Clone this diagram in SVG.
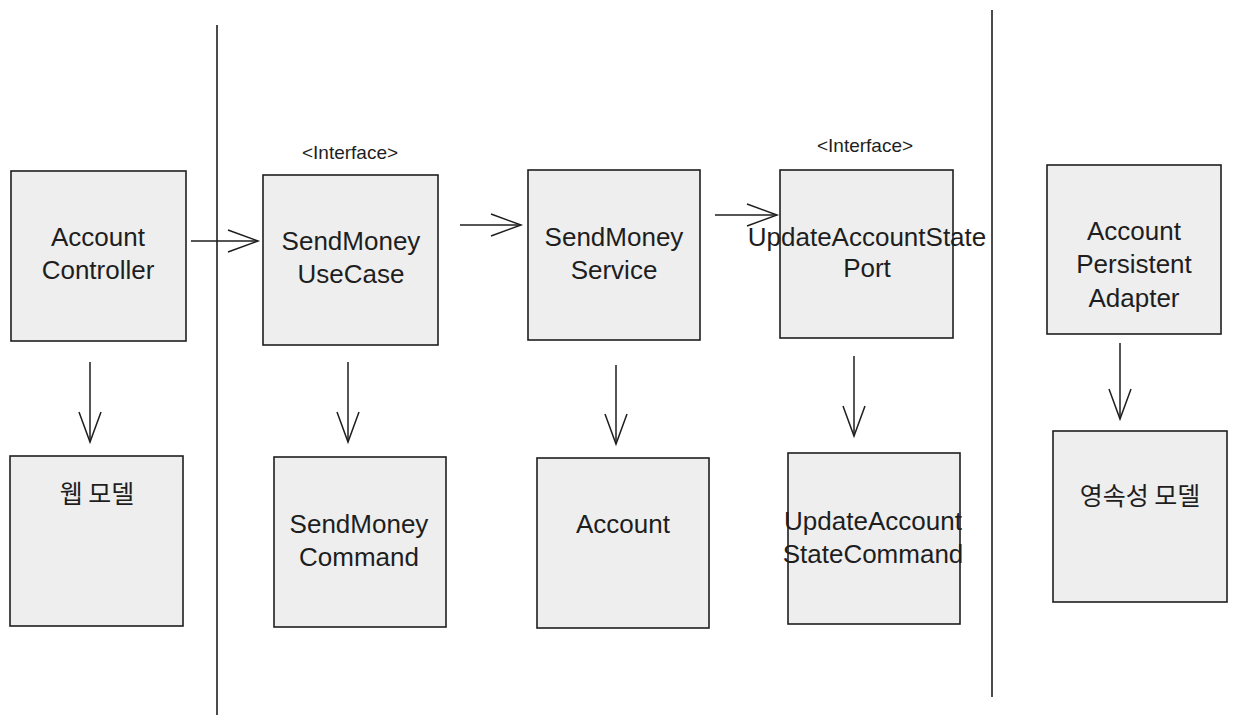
<svg xmlns="http://www.w3.org/2000/svg" width="1236" height="725" viewBox="0 0 1236 725">
<style>
.box{fill:#eeeeee;stroke:#1e1e1e;stroke-width:1.6}
.t{font-family:"Liberation Sans","Noto Sans",sans-serif;font-size:26px;fill:#1e1e1e;text-anchor:middle}
.k{font-family:"Noto Sans CJK KR","Noto Sans",sans-serif;font-size:25px;fill:#1e1e1e;text-anchor:middle}
.s{font-family:"Liberation Sans","Noto Sans",sans-serif;font-size:19px;fill:#1e1e1e;text-anchor:middle}
.ln{stroke:#1e1e1e;stroke-width:1.6;fill:none}
.ar{stroke:#1e1e1e;stroke-width:1.5;fill:none;marker-end:url(#ah)}
</style>
<defs>
<marker id="ah" markerUnits="userSpaceOnUse" markerWidth="34" markerHeight="26" refX="31" refY="12" orient="auto" viewBox="0 0 34 26">
<path d="M1,1 L31,12 L1,23" fill="none" stroke="#1e1e1e" stroke-width="1.5"/>
</marker>
</defs>
<g id="dividers">
<line class="ln" x1="217" y1="25" x2="217" y2="715"/>
<line class="ln" x1="992" y1="10" x2="992" y2="697"/>
</g>
<g id="connectors">
<line class="ar" x1="191" y1="241" x2="258" y2="241"/>
<line class="ar" x1="460" y1="225" x2="521" y2="225"/>
<line class="ar" x1="715" y1="215" x2="777" y2="215"/>
<line class="ar" x1="90" y1="362" x2="90" y2="442"/>
<line class="ar" x1="348" y1="362" x2="348" y2="442"/>
<line class="ar" x1="616" y1="365" x2="616" y2="444"/>
<line class="ar" x1="854" y1="356" x2="854" y2="436"/>
<line class="ar" x1="1120" y1="343" x2="1120" y2="419"/>
</g>
<g id="accountController">
<rect class="box" x="11" y="171" width="175" height="170"/>
<text class="t" x="98" y="246">Account</text>
<text class="t" x="98" y="279">Controller</text>
</g>
<g id="sendMoneyUseCase">
<text class="s" x="350" y="159">&lt;Interface&gt;</text>
<rect class="box" x="263" y="175" width="175" height="170"/>
<text class="t" x="351" y="250">SendMoney</text>
<text class="t" x="351" y="283">UseCase</text>
</g>
<g id="sendMoneyService">
<rect class="box" x="528" y="170" width="172" height="170"/>
<text class="t" x="614" y="246">SendMoney</text>
<text class="t" x="614" y="279">Service</text>
</g>
<g id="updateAccountStatePort">
<text class="s" x="865" y="152">&lt;Interface&gt;</text>
<rect class="box" x="780" y="170" width="173" height="168"/>
<text class="t" x="867" y="246">UpdateAccountState</text>
<text class="t" x="867" y="277">Port</text>
</g>
<g id="accountPersistentAdapter">
<rect class="box" x="1047" y="165" width="174" height="169"/>
<text class="t" x="1134" y="240">Account</text>
<text class="t" x="1134" y="273">Persistent</text>
<text class="t" x="1134" y="307">Adapter</text>
</g>
<g id="webModel">
<rect class="box" x="10" y="456" width="173" height="170"/>
<text class="k" x="97" y="503">웹 모델</text>
</g>
<g id="sendMoneyCommand">
<rect class="box" x="274" y="457" width="172" height="170"/>
<text class="t" x="359" y="533">SendMoney</text>
<text class="t" x="359" y="566">Command</text>
</g>
<g id="account">
<rect class="box" x="537" y="458" width="172" height="170"/>
<text class="t" x="623" y="533">Account</text>
</g>
<g id="updateAccountStateCommand">
<rect class="box" x="788" y="453" width="172" height="171"/>
<text class="t" x="873" y="530">UpdateAccount</text>
<text class="t" x="873" y="563">StateCommand</text>
</g>
<g id="persistenceModel">
<rect class="box" x="1053" y="431" width="174" height="171"/>
<text class="k" x="1140" y="505">영속성 모델</text>
</g>
</svg>
